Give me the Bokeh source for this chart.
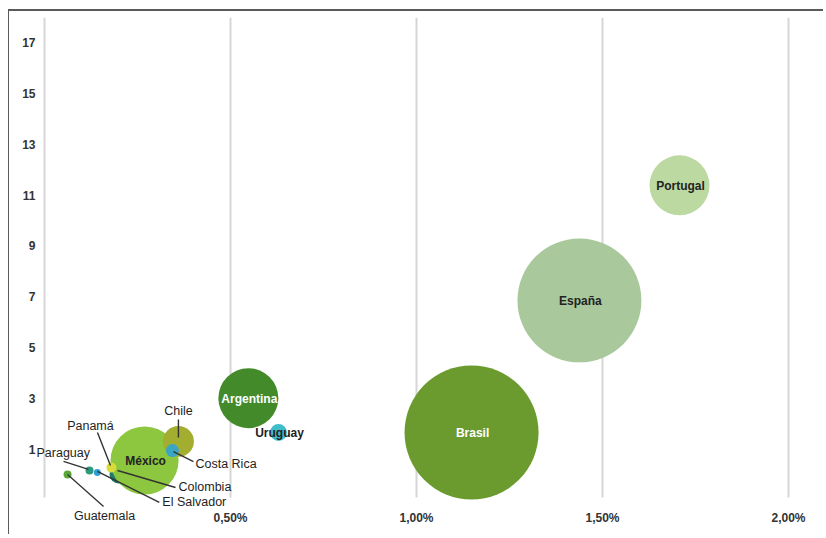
from bokeh.plotting import figure
from bokeh.models import ColumnDataSource, FixedTicker, Range1d
from bokeh.embed import file_html
from bokeh.resources import INLINE
from bokeh.core.properties import value
import math

# ---- data (x in %, y index, bubble weight) ----
paises = ["Brasil", "España", "Portugal", "Argentina", "Colombia", "México", "Chile",
          "Costa Rica", "Panamá", "Uruguay", "El Salvador", "Paraguay", "Guatemala"]
eje_x = [1.148, 1.438, 1.707, 0.548, 0.199, 0.269, 0.360, 0.344, 0.180, 0.629, 0.142, 0.121, 0.062]
eje_y = [1.67, 6.86, 11.38, 3.02, 0.02, 0.57, 1.32, 0.96, 0.29, 1.67, 0.10, 0.18, 0.02]
peso = [449, 384, 90, 90, 8.1, 116, 24, 4.2, 2.5, 7.2, 1.2, 1.6, 1.6]
colores = ["#6b9a2e", "#a9c89c", "#bbd9a0", "#438b2a", "#1f7a6a", "#8dc63f", "#a3ad2f",
           "#3aa6c4", "#d9db3b", "#41bccb", "#2e9fd6", "#2a9b7c", "#5aa83a"]

x_ticks = [0, 0.5, 1.0, 1.5, 2.0]
x_tick_labels = ["", "0,50%", "1,00%", "1,50%", "2,00%"]
y_ticks = [1, 3, 5, 7, 9, 11, 13, 15, 17]

# labels drawn inside bubbles: name -> colour
dentro = {"Brasil": "white", "Argentina": "white", "España": "#222222",
          "Portugal": "#222222", "México": "#222222", "Uruguay": "#222222"}
# labels outside with leader lines: name -> (text dx, dy px, align, line start px, line end px)
fuera = {
    "Chile": (0, -30, "center", (0, -22), (0, -4)),
    "Costa Rica": (23, 13, "left", (21, 11), (1, 1)),
    "Panamá": (-21, -42, "center", (-14, -35), (-1, -2)),
    "Paraguay": (-53, -17, "left", (-26, -9), (-1, -1)),
    "Colombia": (60, 13, "left", (57, 13), (-1, -4)),
    "El Salvador": (65, 30, "left", (62, 30), (0, -1)),
    "Guatemala": (37, 42, "center", (36, 32), (0, 0)),
}

W, H = 815, 525
BL, BR, BT, BB = 0, 0, 6, 0
PPX, PPY = 372.0, 25.45          # pixels per unit
fw, fh = W - BL - BR, H - BT - BB
X0 = -35 / PPX
X1 = X0 + fw / PPX
Y1 = 17.976
Y0 = Y1 - fh / PPY
GRID_BOTTOM = -0.884               # lower end of the vertical grid lines
AXIS_LEFT = -4 / PPX               # where the y-axis labels hang from

p = figure(width=W, height=H, output_backend="svg", toolbar_location=None,
           x_range=Range1d(X0, X1), y_range=Range1d(Y0, Y1),
           min_border_left=BL, min_border_right=BR, min_border_top=BT, min_border_bottom=BB,
           styles={"border-top": "2px solid #5a5a5a", "border-left": "1px solid #5a5a5a",
                   "margin-left": "8px", "margin-top": "9px"})
p.outline_line_color = None
p.xgrid.grid_line_color = None
p.ygrid.grid_line_color = None

# vertical grid lines at the x ticks, stopping at the axis
p.segment(x0=x_ticks, y0=[GRID_BOTTOM] * len(x_ticks), x1=x_ticks, y1=[Y1] * len(x_ticks),
          line_color="#d6d6d6", line_width=2)

p.xaxis.ticker = FixedTicker(ticks=x_ticks)
p.xaxis.major_label_overrides = {t: l for t, l in zip(x_ticks, x_tick_labels)}
p.xaxis.fixed_location = GRID_BOTTOM
p.yaxis.ticker = FixedTicker(ticks=y_ticks)
p.yaxis.fixed_location = AXIS_LEFT
for ax in (p.xaxis[0], p.yaxis[0]):
    ax.axis_line_color = None
    ax.major_tick_line_color = None
    ax.minor_tick_line_color = None
    ax.major_tick_in = 0
    ax.major_tick_out = 0
    ax.major_label_text_font = "Liberation Sans"
    ax.major_label_text_font_size = "12px"
    ax.major_label_text_color = "#333333"
    ax.major_label_text_font_style = "bold"
p.xaxis.major_label_standoff = 14
p.yaxis.major_label_standoff = 5

size = [2 * math.sqrt(w * 10) for w in peso]
src = ColumnDataSource(dict(x=eje_x, y=eje_y, s=size, c=colores, n=paises))
p.scatter("x", "y", size="s", fill_color="c", line_color=None, source=src)

# leader lines + outside labels
xs0, ys0, xs1, ys1 = [], [], [], []
tx, ty, tt, tdx, tdy, tal = [], [], [], [], [], []
for n, (dx, dy, al, a, b) in fuera.items():
    i = paises.index(n)
    xs0.append(eje_x[i] + a[0] / PPX); ys0.append(eje_y[i] - a[1] / PPY)
    xs1.append(eje_x[i] + b[0] / PPX); ys1.append(eje_y[i] - b[1] / PPY)
    tx.append(eje_x[i]); ty.append(eje_y[i]); tt.append(n)
    tdx.append(dx); tdy.append(dy); tal.append(al)
p.segment(xs0, ys0, xs1, ys1, line_color="#333333", line_width=1.4)
p.text(tx, ty, text=tt, x_offset=tdx, y_offset=tdy, text_align=tal,
       text_baseline="middle", text_font=value("Liberation Sans"),
       text_font_size="12.5px", text_color="#1e1e1e")

# inside labels
ix = [eje_x[paises.index(n)] for n in dentro]
iy = [eje_y[paises.index(n)] for n in dentro]
p.text(ix, iy, text=list(dentro.keys()), text_color=list(dentro.values()),
       text_align="center", text_baseline="middle", x_offset=1, y_offset=1,
       text_font=value("Liberation Sans"), text_font_size="12px", text_font_style="bold")

open("out.html", "w").write(file_html(p, INLINE))
